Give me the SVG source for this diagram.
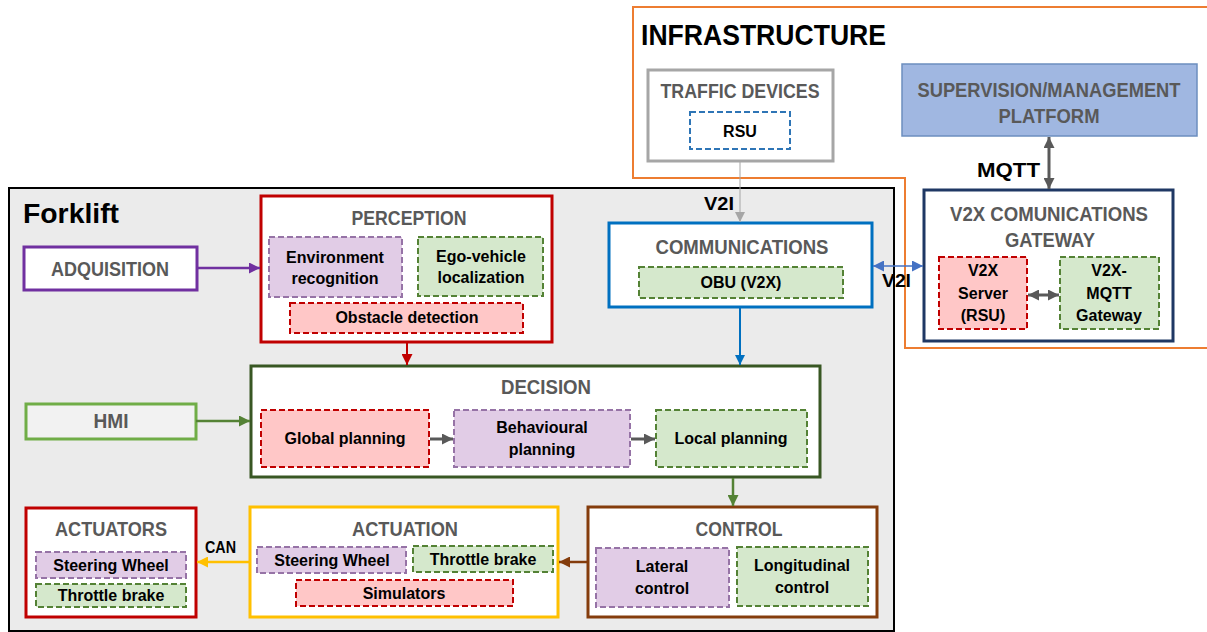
<svg xmlns="http://www.w3.org/2000/svg" width="1207" height="632" viewBox="0 0 1207 632">
<style>
.hd{font-family:"Liberation Sans",Arial,sans-serif;font-weight:bold;font-size:21px;fill:#595959;text-anchor:middle;}
.tx{font-family:"Liberation Sans",Arial,sans-serif;font-weight:bold;font-size:16px;fill:#000;text-anchor:middle;}
.lb{font-family:"Liberation Sans",Arial,sans-serif;font-weight:bold;fill:#000;}
.pur{fill:#E1CCE6;stroke:#9673A6;stroke-width:2;stroke-dasharray:6 3;}
.grn{fill:#D5E8CC;stroke:#548235;stroke-width:2;stroke-dasharray:6 3;}
.red{fill:#FFC7C7;stroke:#C00000;stroke-width:2;stroke-dasharray:6 3;}
.box{fill:#fff;stroke-width:3;}
.cn{fill:none;}
</style>
<defs>
<marker id="aGray" viewBox="0 0 10 10" refX="10" refY="5" markerUnits="userSpaceOnUse" markerWidth="10" markerHeight="10" orient="auto-start-reverse"><path d="M0,0 L10,5 L0,10 z" fill="#A6A6A6"/></marker>
<marker id="aBlueL" viewBox="0 0 10 10" refX="10" refY="5" markerUnits="userSpaceOnUse" markerWidth="11" markerHeight="11" orient="auto-start-reverse"><path d="M0,0 L10,5 L0,10 z" fill="#4472C4"/></marker>
<marker id="aBlue" viewBox="0 0 10 10" refX="10" refY="5" markerUnits="userSpaceOnUse" markerWidth="10" markerHeight="10" orient="auto-start-reverse"><path d="M0,0 L10,5 L0,10 z" fill="#0070C0"/></marker>
<marker id="aDark" viewBox="0 0 10 10" refX="10" refY="5" markerUnits="userSpaceOnUse" markerWidth="11" markerHeight="11" orient="auto-start-reverse"><path d="M0,0 L10,5 L0,10 z" fill="#595959"/></marker>
<marker id="aPur" viewBox="0 0 10 10" refX="10" refY="5" markerUnits="userSpaceOnUse" markerWidth="11" markerHeight="11" orient="auto-start-reverse"><path d="M0,0 L10,5 L0,10 z" fill="#7030A0"/></marker>
<marker id="aRed" viewBox="0 0 10 10" refX="10" refY="5" markerUnits="userSpaceOnUse" markerWidth="11" markerHeight="11" orient="auto-start-reverse"><path d="M0,0 L10,5 L0,10 z" fill="#C00000"/></marker>
<marker id="aGrn" viewBox="0 0 10 10" refX="10" refY="5" markerUnits="userSpaceOnUse" markerWidth="11" markerHeight="11" orient="auto-start-reverse"><path d="M0,0 L10,5 L0,10 z" fill="#548235"/></marker>
<marker id="aBrn" viewBox="0 0 10 10" refX="10" refY="5" markerUnits="userSpaceOnUse" markerWidth="11" markerHeight="11" orient="auto-start-reverse"><path d="M0,0 L10,5 L0,10 z" fill="#843C0C"/></marker>
<marker id="aYel" viewBox="0 0 10 10" refX="10" refY="5" markerUnits="userSpaceOnUse" markerWidth="11" markerHeight="11" orient="auto-start-reverse"><path d="M0,0 L10,5 L0,10 z" fill="#FFC000"/></marker>
</defs>
<rect width="1207" height="632" fill="#fff"/>

<g id="infrastructure">
<path d="M1209,7 H633 V178 H905 V348 H1209" fill="none" stroke="#ED7D31" stroke-width="2"/>
<text class="lb" x="641" y="45" font-size="30" textLength="245" lengthAdjust="spacingAndGlyphs">INFRASTRUCTURE</text>
</g>

<g id="forklift">
<rect x="9" y="188" width="885" height="443" fill="#EBEBEB" stroke="#000" stroke-width="2"/>
<text class="lb" x="23" y="223" font-size="27" textLength="96" lengthAdjust="spacingAndGlyphs">Forklift</text>
</g>

<g id="traffic-devices">
<rect class="box" x="648" y="70" width="185" height="91" stroke="#A6A6A6"/>
<text class="hd" x="740" y="98" textLength="159" lengthAdjust="spacingAndGlyphs">TRAFFIC DEVICES</text>
<rect x="690" y="112" width="100" height="37" fill="#fff" stroke="#2E75B6" stroke-width="2" stroke-dasharray="6 3"/>
<text class="tx" x="740" y="137" font-size="18">RSU</text>
</g>

<g id="supervision">
<rect x="902" y="64" width="295" height="72" fill="#A0B7E1" stroke="#6C8EBF" stroke-width="1.5"/>
<text class="hd" x="1049" y="97" font-size="18" textLength="263" lengthAdjust="spacingAndGlyphs">SUPERVISION/MANAGEMENT</text>
<text class="hd" x="1049" y="123" textLength="101" lengthAdjust="spacingAndGlyphs">PLATFORM</text>
</g>

<g id="v2x-gateway">
<rect class="box" x="924" y="190" width="249" height="151" stroke="#1F3864"/>
<text class="hd" x="1049" y="221" textLength="198" lengthAdjust="spacingAndGlyphs">V2X COMUNICATIONS</text>
<text class="hd" x="1050" y="247" textLength="90" lengthAdjust="spacingAndGlyphs">GATEWAY</text>
<g id="v2x-server">
<rect class="red" x="939" y="257" width="88" height="72"/>
<text class="tx" x="983" y="276">V2X</text>
<text class="tx" x="983" y="299">Server</text>
<text class="tx" x="983" y="321">(RSU)</text>
</g>
<g id="v2x-mqtt">
<rect class="grn" x="1060" y="257" width="99" height="72"/>
<text class="tx" x="1109" y="276">V2X-</text>
<text class="tx" x="1109" y="299">MQTT</text>
<text class="tx" x="1109" y="321">Gateway</text>
</g>
</g>

<g id="communications">
<rect class="box" x="609" y="223" width="263" height="84" stroke="#0070C0"/>
<text class="hd" x="742" y="254" textLength="173" lengthAdjust="spacingAndGlyphs">COMMUNICATIONS</text>
<rect class="grn" x="639" y="267" width="204" height="31"/>
<text class="tx" x="741" y="288">OBU (V2X)</text>
</g>

<g id="adquisition">
<rect class="box" x="24" y="247" width="173" height="43" stroke="#7030A0"/>
<text class="hd" x="110" y="276" textLength="118" lengthAdjust="spacingAndGlyphs">ADQUISITION</text>
</g>

<g id="perception">
<rect class="box" x="261" y="196" width="291" height="146" stroke="#C00000"/>
<text class="hd" x="409" y="225" textLength="115" lengthAdjust="spacingAndGlyphs">PERCEPTION</text>
<rect class="pur" x="269" y="237" width="133" height="60"/>
<text class="tx" x="335" y="263">Environment</text>
<text class="tx" x="335" y="284">recognition</text>
<rect class="grn" x="418" y="237" width="125" height="59"/>
<text class="tx" x="481" y="262">Ego-vehicle</text>
<text class="tx" x="481" y="283">localization</text>
<rect class="red" x="290" y="303" width="233" height="30"/>
<text class="tx" x="407" y="323">Obstacle detection</text>
</g>

<g id="hmi">
<rect x="26" y="404" width="170" height="35" fill="#F2F2F2" stroke="#70AD47" stroke-width="3"/>
<text class="hd" x="111" y="428" textLength="35" lengthAdjust="spacingAndGlyphs">HMI</text>
</g>

<g id="decision">
<rect class="box" x="251" y="366" width="569" height="111" stroke="#385723"/>
<text class="hd" x="546" y="394" textLength="90" lengthAdjust="spacingAndGlyphs">DECISION</text>
<rect class="red" x="261" y="410" width="168" height="57"/>
<text class="tx" x="345" y="444">Global planning</text>
<rect class="pur" x="454" y="410" width="176" height="57"/>
<text class="tx" x="542" y="433">Behavioural</text>
<text class="tx" x="542" y="455">planning</text>
<rect class="grn" x="656" y="410" width="151" height="57"/>
<text class="tx" x="731" y="444">Local planning</text>
</g>

<g id="actuators">
<rect class="box" x="26" y="508" width="170" height="109" stroke="#C00000"/>
<text class="hd" x="111" y="536" textLength="112" lengthAdjust="spacingAndGlyphs">ACTUATORS</text>
<rect class="pur" x="36" y="552" width="150" height="26"/>
<text class="tx" x="111" y="571">Steering Wheel</text>
<rect class="grn" x="36" y="584" width="150" height="23"/>
<text class="tx" x="111" y="601">Throttle brake</text>
</g>

<g id="actuation">
<rect class="box" x="250" y="507" width="308" height="110" stroke="#FFC000"/>
<text class="hd" x="405" y="536" textLength="106" lengthAdjust="spacingAndGlyphs">ACTUATION</text>
<rect class="pur" x="257" y="547" width="149" height="26"/>
<text class="tx" x="332" y="566">Steering Wheel</text>
<rect class="grn" x="413" y="546" width="140" height="26"/>
<text class="tx" x="483" y="565">Throttle brake</text>
<rect class="red" x="296" y="580" width="217" height="26"/>
<text class="tx" x="404" y="599">Simulators</text>
</g>

<g id="control">
<rect class="box" x="588" y="507" width="289" height="110" stroke="#843C0C"/>
<text class="hd" x="739" y="536" textLength="87" lengthAdjust="spacingAndGlyphs">CONTROL</text>
<rect class="pur" x="596" y="548" width="133" height="59"/>
<text class="tx" x="662" y="572">Lateral</text>
<text class="tx" x="662" y="594">control</text>
<rect class="grn" x="737" y="547" width="131" height="59"/>
<text class="tx" x="802" y="571">Longitudinal</text>
<text class="tx" x="802" y="593">control</text>
</g>

<g id="connectors">
<line class="cn" x1="740" y1="161" x2="740" y2="222" stroke="#A6A6A6" stroke-width="1" marker-end="url(#aGray)"/>
<line class="cn" x1="873" y1="266" x2="923" y2="266" stroke="#4472C4" stroke-width="1.5" marker-start="url(#aBlueL)" marker-end="url(#aBlueL)"/>
<line class="cn" x1="740" y1="307" x2="740" y2="365" stroke="#0070C0" stroke-width="2" marker-end="url(#aBlue)"/>
<line class="cn" x1="1049" y1="137" x2="1049" y2="189" stroke="#595959" stroke-width="3" marker-start="url(#aDark)" marker-end="url(#aDark)"/>
<line class="cn" x1="1028" y1="295" x2="1059" y2="295" stroke="#595959" stroke-width="3" marker-start="url(#aDark)" marker-end="url(#aDark)"/>
<line class="cn" x1="197" y1="268" x2="260" y2="268" stroke="#7030A0" stroke-width="2.5" marker-end="url(#aPur)"/>
<line class="cn" x1="407" y1="342" x2="407" y2="365" stroke="#C00000" stroke-width="2" marker-end="url(#aRed)"/>
<line class="cn" x1="196" y1="421" x2="250" y2="421" stroke="#548235" stroke-width="2.5" marker-end="url(#aGrn)"/>
<line class="cn" x1="430" y1="439" x2="453" y2="439" stroke="#595959" stroke-width="3" marker-end="url(#aDark)"/>
<line class="cn" x1="631" y1="439" x2="655" y2="439" stroke="#595959" stroke-width="3" marker-end="url(#aDark)"/>
<line class="cn" x1="733" y1="478" x2="733" y2="506" stroke="#548235" stroke-width="2.5" marker-end="url(#aGrn)"/>
<line class="cn" x1="587" y1="562" x2="559" y2="562" stroke="#843C0C" stroke-width="2.5" marker-end="url(#aBrn)"/>
<line class="cn" x1="249" y1="562" x2="197" y2="562" stroke="#FFC000" stroke-width="2.5" marker-end="url(#aYel)"/>
<text class="lb" x="704" y="210" font-size="19" textLength="30" lengthAdjust="spacingAndGlyphs">V2I</text>
<text class="lb" x="882" y="287" font-size="19" textLength="29" lengthAdjust="spacingAndGlyphs">V2I</text>
<text class="lb" x="977" y="177" font-size="21" textLength="63" lengthAdjust="spacingAndGlyphs">MQTT</text>
<text class="lb" x="205" y="553" font-size="16" textLength="31" lengthAdjust="spacingAndGlyphs">CAN</text>
</g>
</svg>
